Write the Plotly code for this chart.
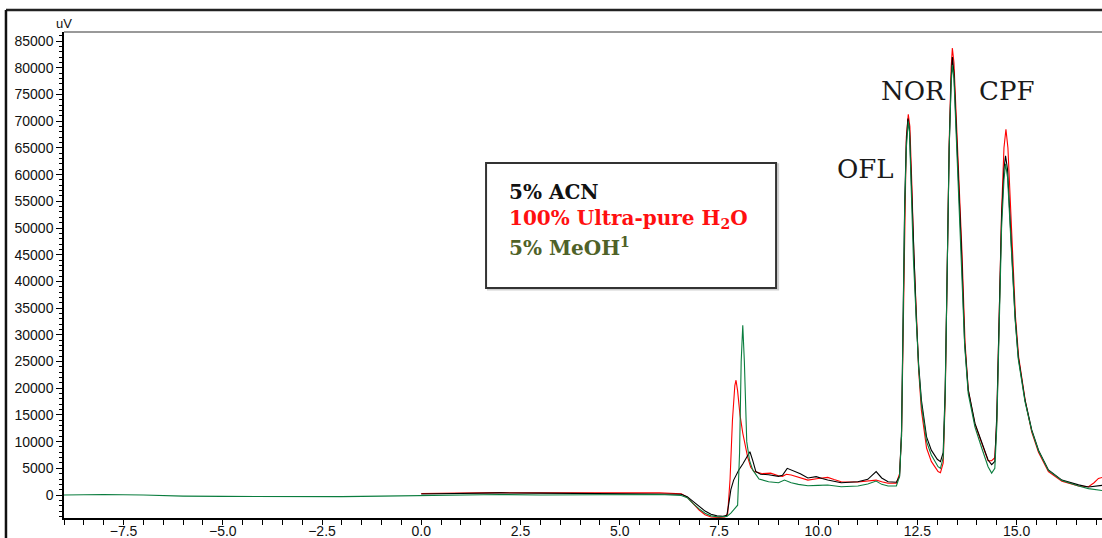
import plotly.graph_objects as go

# Retention time (min) and detector response (uV) for each diluent
acn_t = [0.0, 1.0, 2.0, 3.0, 4.0, 5.0, 6.0, 6.55, 6.7, 6.85, 7.0, 7.15, 7.3, 7.45, 7.6, 7.7,
         7.75, 7.8, 7.87, 8.0, 8.1, 8.18, 8.28, 8.35, 8.43, 8.55, 8.75, 9.0, 9.1, 9.22, 9.35,
         9.55, 9.74, 9.95, 10.1, 10.24, 10.58, 11.0, 11.25, 11.46, 11.6, 11.76, 11.97, 12.05,
         12.1, 12.14, 12.18, 12.22, 12.26, 12.3, 12.35, 12.4, 12.47, 12.53, 12.6, 12.73, 12.85,
         13.0, 13.08, 13.15, 13.2, 13.25, 13.3, 13.35, 13.38, 13.42, 13.5, 13.55, 13.61, 13.69,
         13.78, 13.95, 14.12, 14.28, 14.37, 14.45, 14.5, 14.56, 14.62, 14.68, 14.72, 14.77,
         14.85, 14.96, 15.04, 15.21, 15.38, 15.55, 15.8, 16.14, 16.56, 16.81, 17.15, 17.2]
acn_uv = [200, 300, 400, 350, 300, 300, 250, 150, -300, -1200, -2200, -3000, -3600, -3900, -4000, -3800,
          -1500, 1000, 2800, 4700, 5800, 6900, 8100, 6500, 4400, 3900, 3800, 3500, 3700, 5000, 4600,
          4000, 3200, 3450, 3100, 2800, 2300, 2500, 2950, 4400, 3200, 2500, 2400, 3500,
          12000, 33000, 55000, 66000, 70500, 68500, 58000, 45000, 33400, 24500, 17800, 10900, 8400,
          6700, 6250, 8000, 20000, 42000, 65000, 78000, 82000, 79000, 65000, 55000, 45900, 28500,
          19700, 13400, 9700, 6560, 5700, 6300, 15000, 33000, 52000, 61000, 63500, 61000,
          50000, 33400, 25900, 17800, 12200, 8400, 4700, 2800, 1900, 1500, 1800, 1850]

h2o_t = [0.0, 1.0, 2.0, 3.0, 4.0, 5.0, 6.0, 6.55, 6.7, 6.85, 7.0, 7.15, 7.3, 7.5, 7.65, 7.72,
         7.78, 7.84, 7.9, 7.93, 7.97, 8.03, 8.1, 8.22, 8.3, 8.39, 8.6, 8.8, 9.0, 9.1, 9.2, 9.32,
         9.5, 9.74, 10.0, 10.24, 10.4, 10.58, 11.0, 11.25, 11.46, 11.6, 11.76, 11.97, 12.05,
         12.1, 12.14, 12.18, 12.22, 12.27, 12.31, 12.36, 12.41, 12.48, 12.53, 12.6, 12.73, 12.85,
         13.02, 13.08, 13.15, 13.2, 13.25, 13.3, 13.35, 13.38, 13.42, 13.5, 13.56, 13.62, 13.7,
         13.78, 13.95, 14.12, 14.28, 14.37, 14.45, 14.5, 14.56, 14.62, 14.68, 14.73, 14.78,
         14.86, 14.97, 15.05, 15.22, 15.38, 15.55, 15.8, 16.14, 16.56, 16.81, 16.95, 17.06, 17.2]
h2o_uv = [300, 400, 450, 400, 400, 450, 400, 250, -400, -1600, -2800, -3700, -4100, -4200, -4100, -3500,
          3000, 14000, 20500, 21500, 19500, 15000, 11600, 7200, 5200, 4400, 4000, 4100, 3600, 3500, 3900, 3750,
          3300, 2800, 3100, 3300, 2900, 2500, 2450, 2620, 2800, 2500, 2200, 2200, 4000,
          11000, 32000, 55000, 67000, 71300, 69000, 58000, 45000, 33000, 23500, 15900, 8800, 6300,
          4400, 4180, 6000, 18000, 42000, 66000, 80000, 83700, 81000, 67000, 55000, 45900, 28500,
          19700, 13200, 9500, 6430, 6450, 7000, 14000, 32000, 53000, 65000, 68500, 65000,
          51000, 33400, 25900, 17500, 11800, 8000, 4400, 2600, 1700, 1560, 2300, 3100, 3400]

meoh_t = [-9.0, -8.0, -7.0, -6.0, -5.0, -4.0, -3.0, -2.0, -1.0, 0.0, 1.0, 2.0, 3.0, 4.0, 5.0, 6.0,
          6.55, 6.7, 6.85, 7.0, 7.15, 7.3, 7.5, 7.7, 7.8, 7.9, 7.97, 8.02, 8.06, 8.1, 8.14, 8.2,
          8.27, 8.35, 8.51, 8.75, 9.0, 9.15, 9.32, 9.5, 9.74, 10.0, 10.24, 10.58, 11.0, 11.25,
          11.46, 11.6, 11.76, 11.97, 12.05, 12.1, 12.14, 12.18, 12.22, 12.27, 12.3, 12.35, 12.4,
          12.47, 12.53, 12.6, 12.73, 12.85, 13.02, 13.08, 13.15, 13.2, 13.25, 13.3, 13.35, 13.38,
          13.42, 13.5, 13.55, 13.61, 13.69, 13.78, 13.95, 14.12, 14.28, 14.37, 14.45, 14.5, 14.56,
          14.62, 14.68, 14.72, 14.77, 14.85, 14.96, 15.04, 15.21, 15.38, 15.55, 15.8, 16.14, 16.56,
          16.81, 17.2]
meoh_uv = [0, 100, 0, -200, -250, -300, -250, -300, -200, -100, 0, 100, 0, 50, 100, 100,
           -100, -500, -1600, -2600, -3400, -3900, -4100, -4000, -3400, -2500, -1900, 8000, 25000, 31800, 25000, 10000,
           6500, 4700, 3000, 2500, 2300, 2800, 2300, 2000, 1750, 1800, 1870, 1560, 1690, 2060,
           2620, 2000, 1690, 1700, 3500, 11000, 32000, 54000, 65000, 70000, 68000, 57000, 44000,
           33000, 24000, 17000, 10000, 7500, 5300, 5000, 7000, 19000, 43000, 65000, 77000, 80500,
           78000, 64000, 54000, 45000, 28000, 19000, 12700, 8800, 5300, 4100, 5000, 13000, 31000,
           50000, 59000, 62000, 59500, 49000, 33000, 25500, 17500, 12000, 8300, 4600, 2700, 1700,
           1200, 800]

legend_rows = ["5% ACN", "100% Ultra-pure H<sub>2</sub>O", "5% MeOH<sup>1</sup>"]
legend_colors = ["#111111", "#ff1010", "#4f6228"]

peak_names = ["OFL", "NOR", "CPF"]
peak_label_t = [11.19, 12.40, 14.74]
peak_label_uv = [61000, 75700, 75700]

fig = go.Figure()
fig.add_trace(go.Scatter(x=h2o_t, y=h2o_uv, mode="lines", line=dict(color="#ff0000", width=1.1)))
fig.add_trace(go.Scatter(x=acn_t, y=acn_uv, mode="lines", line=dict(color="#000000", width=1.1)))
fig.add_trace(go.Scatter(x=meoh_t, y=meoh_uv, mode="lines", line=dict(color="#0a7d3e", width=1.1)))

tick_font = dict(family="Liberation Sans, Arial, sans-serif", size=14, color="#111111")

fig.update_layout(
    width=1102, height=538,
    margin=dict(l=64, r=0, t=32, b=20, autoexpand=False),
    paper_bgcolor="white", plot_bgcolor="white",
    showlegend=False,
    xaxis=dict(range=[-9.0, 17.15], tick0=0, dtick=2.5, tickformat=".1f", automargin=False,
               showgrid=False, zeroline=False, showline=True, linecolor="black", linewidth=1.5,
               ticks="outside", ticklen=5, tickcolor="black", tickfont=tick_font,
               ticklabelstandoff=-6,
               minor=dict(dtick=0.5, ticks="outside", ticklen=5, tickcolor="black")),
    yaxis=dict(range=[-4300, 86700], tick0=0, dtick=5000, tickformat="d", automargin=False,
               showgrid=False, zeroline=False, showline=True, linecolor="black", linewidth=1.5,
               ticks="outside", ticklen=6, tickcolor="black", tickfont=tick_font,
               minor=dict(dtick=1000, ticks="outside", ticklen=3, tickcolor="black")),
)

# frame lines around the chart
fig.add_shape(type="line", xref="paper", yref="paper", x0=0, x1=1, y0=1, y1=1,
              line=dict(color="#777777", width=1.5))
fig.add_shape(type="line", xref="paper", yref="paper", x0=-0.0559, x1=1.0, y0=1.0453, y1=1.0453,
              line=dict(color="#222222", width=2.5))
fig.add_shape(type="line", xref="paper", yref="paper", x0=-0.0559, x1=-0.0559, y0=1.0453, y1=-0.05,
              line=dict(color="#111111", width=2.5))

# legend box
fig.add_shape(type="rect", xref="paper", yref="paper", x0=0.4085, x1=0.6880, y0=0.4700, y1=0.7280,
              line=dict(color="#cfcfcf", width=2))
fig.add_shape(type="rect", xref="paper", yref="paper", x0=0.4066, x1=0.6860, y0=0.4730, y1=0.7305,
              line=dict(color="#333333", width=2), fillcolor="white")

row_y = [0.6708, 0.6152, 0.5576]
for text, color, yy in zip(legend_rows, legend_colors, row_y):
    fig.add_annotation(xref="paper", yref="paper", x=0.4268, y=yy, xanchor="left", yanchor="middle",
                       text="<b>" + text + "</b>", showarrow=False,
                       font=dict(family="DejaVu Serif, serif", size=20, color=color))

for name, t, uv in zip(peak_names, peak_label_t, peak_label_uv):
    fig.add_annotation(x=t, y=uv, text=name, showarrow=False, xanchor="center", yanchor="middle",
                       font=dict(family="DejaVu Serif, serif", size=26, color="#1a1a1a"))

fig.add_annotation(xref="paper", yref="paper", x=0.0, y=1.0185, text="uV", showarrow=False,
                   xanchor="center", yanchor="middle",
                   font=dict(family="Liberation Sans, Arial, sans-serif", size=13, color="#111111"))

fig.write_html("out.html")
